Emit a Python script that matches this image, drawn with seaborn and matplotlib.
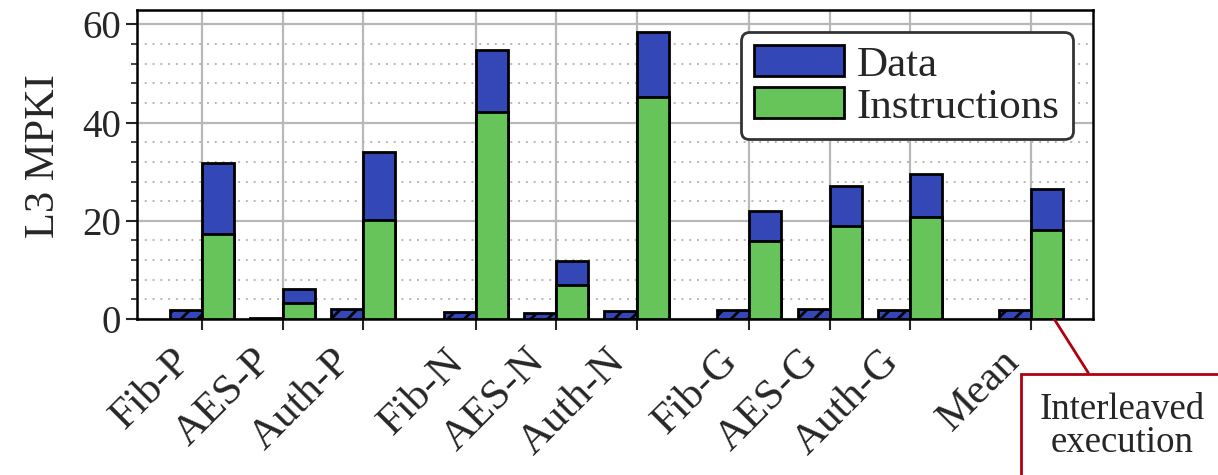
import numpy as np
import pandas as pd
import matplotlib
matplotlib.use("Agg")
import matplotlib.pyplot as plt
import matplotlib.transforms as mtransforms
import seaborn as sns
from matplotlib.patches import Patch
from matplotlib.ticker import MultipleLocator

categories = ["Fib-P", "AES-P", "Auth-P", "Fib-N", "AES-N", "Auth-N",
              "Fib-G", "AES-G", "Auth-G", "Mean"]
groups = [0, 0, 0, 1, 1, 1, 2, 2, 2, 3]
baseline = [1.8, 0.3, 2.0, 1.5, 1.3, 1.7, 1.8, 2.0, 1.8, 1.8]
instructions = [17.3, 3.3, 20.2, 42.2, 6.9, 45.3, 15.9, 19.0, 20.8, 18.2]
data_part = [14.5, 2.9, 13.9, 12.7, 4.9, 13.1, 6.1, 8.0, 8.7, 8.3]

BLUE = "#3447B7"
GREEN = "#66C45A"

sns.set_theme(style="white")
plt.rcParams["font.family"] = ["Liberation Serif", "DejaVu Serif"]
plt.rcParams["hatch.linewidth"] = 2.0

gap = [0.0, 0.4, 0.8, 1.3]
pos = np.array([i + gap[g] for i, g in enumerate(groups)])
w = 0.4

df = pd.DataFrame({
    "cat": categories,
    "pos": pos,
    "base": baseline,
    "instr": instructions,
    "total": np.array(instructions) + np.array(data_part),
})

fig = plt.figure(figsize=(12.18, 4.75), dpi=100)
ax = fig.add_axes([0.1125, 0.3284, 0.7847, 0.650])

df["pos_l"] = df["pos"] - w / 2
df["pos_r"] = df["pos"] + w / 2

sns.barplot(data=df, x="pos_l", y="base", native_scale=True, width=w,
            color=BLUE, saturation=1, edgecolor="black", linewidth=2,
            hatch="//", errorbar=None, ax=ax, zorder=3)
sns.barplot(data=df, x="pos_r", y="total", native_scale=True, width=w,
            color=BLUE, saturation=1, edgecolor="black", linewidth=2,
            errorbar=None, ax=ax, zorder=3)
sns.barplot(data=df, x="pos_r", y="instr", native_scale=True, width=w,
            color=GREEN, saturation=1, edgecolor="black", linewidth=2,
            errorbar=None, ax=ax, zorder=4)

ax.set_xlim(-0.81, 11.07)
ax.set_ylim(0, 62.9)
ax.set_xticks(pos)
ax.set_xticklabels([""] * len(pos))
label_tr = (mtransforms.blended_transform_factory(ax.transData, ax.transAxes)
            + mtransforms.ScaledTranslation(-0.31, -0.23, fig.dpi_scale_trans))
for p, c in zip(pos, categories):
    ax.text(p, 0, c, transform=label_tr, rotation=45, ha="right", va="top",
            rotation_mode="anchor", fontsize=31, clip_on=False)
ax.set_xlabel("")
ax.yaxis.set_major_locator(MultipleLocator(20))
ax.yaxis.set_minor_locator(MultipleLocator(4))
ax.tick_params(axis="y", which="major", labelsize=28, length=8, width=1.5,
               direction="out", left=True)
ax.tick_params(axis="y", which="minor", length=4, width=1.2, left=True)
ax.tick_params(axis="x", which="major", length=8, width=1.5,
               direction="out", bottom=True, pad=4)
ax.set_ylabel("L3 MPKI", fontsize=30.5)
ax.yaxis.set_label_coords(-0.077, 0.527)

ax.grid(True, which="major", axis="both", color="#b8b8b8", linewidth=1.6,
        linestyle="-", zorder=0)
ax.grid(True, which="minor", axis="y", color="#b8b8b8", linewidth=1.4,
        linestyle=(0, (1, 3)), zorder=0)
ax.set_axisbelow(True)
for s in ax.spines.values():
    s.set_color("black")
    s.set_linewidth(1.8)

handles = [Patch(facecolor=BLUE, edgecolor="black", linewidth=2, label="Data"),
           Patch(facecolor=GREEN, edgecolor="black", linewidth=2, label="Instructions")]
leg = ax.legend(handles=handles, loc="upper right", bbox_to_anchor=(0.979, 0.929),
                borderaxespad=0, fontsize=31, handlelength=2.1, handleheight=0.74,
                handletextpad=0.3, labelspacing=0.05, borderpad=0.3,
                frameon=True, fancybox=True, framealpha=1)
leg.get_frame().set_edgecolor("#333333")
leg.get_frame().set_linewidth(2)

ax.annotate("Interleaved\nexecution", xy=(pos[-1] + 0.29, 0), xycoords="data",
            xytext=(1122, 49), textcoords="figure pixels",
            ha="center", va="center", fontsize=26.5, linespacing=0.95,
            annotation_clip=False,
            bbox=dict(boxstyle="square,pad=0.5", facecolor="white",
                      edgecolor="#B00010", linewidth=2),
            arrowprops=dict(arrowstyle="-", color="#B00010", linewidth=2,
                            shrinkA=0, shrinkB=0))

fig.savefig("out.png", dpi=100)
